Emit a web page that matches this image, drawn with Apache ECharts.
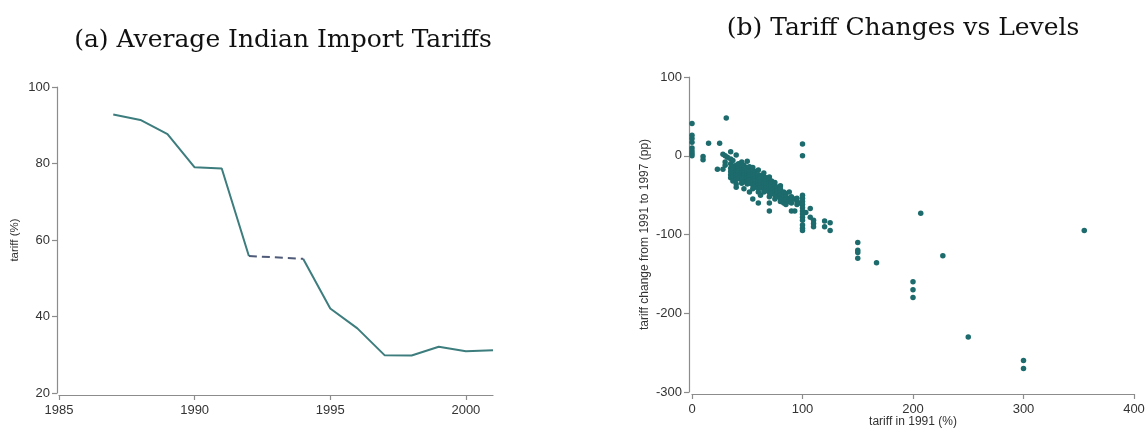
<!DOCTYPE html>
<html>
<head>
<meta charset="utf-8">
<script src="https://cdn.jsdelivr.net/npm/echarts@6/dist/echarts.min.js"></script>
<style>
html,body{margin:0;padding:0;background:#fff;}
#chart{width:1146px;height:430px;}
</style>
</head>
<body>
<div id="chart"></div>
<script>
// ---- Panel (a): average Indian import tariffs ----
var years = [1987, 1988, 1989, 1990, 1991, 1992, 1994, 1995, 1996, 1997, 1998, 1999, 2000, 2001];
var tariffs = [92.8, 91.4, 87.7, 79.0, 78.7, 55.8, 55.1, 42.1, 36.9, 29.9, 29.8, 32.1, 30.9, 31.2];
var gapYears = [1992, 1994];           // dashed segment (missing 1993)
var xTicksA = [1985, 1990, 1995, 2000];
var yTicksA = [20, 40, 60, 80, 100];

// ---- Panel (b): tariff change 1991-1997 vs tariff level in 1991 ----
// grouped as [tariff in 1991, [changes...]]
var scatterColumns = [
  [0, [41, 26, 22, 17, 10, 6, 3, 0]],
  [10, [-1, -5]],
  [15, [16]],
  [23, [-17]],
  [25, [16]],
  [28, [-17, 2]],
  [30, [0, -8, -12]],
  [31, [48]],
  [32, [-2]],
  [35, [5, -4, -10, -16, -20, -24, -28]],
  [37, [-6, -13, -18, -22, -27, -32]],
  [40, [1, -12, -15, -18, -21, -24, -27, -30, -36, -40]],
  [42, [-10, -16, -19, -22, -25, -29]],
  [45, [-8, -14, -18, -21, -24, -27, -31, -35]],
  [47, [-12, -18, -22, -25, -28, -33, -42]],
  [50, [-7, -15, -19, -23, -26, -29, -32, -36]],
  [52, [-14, -20, -24, -27, -31, -35, -46]],
  [55, [-15, -19, -23, -27, -30, -33, -37, -42, -55]],
  [57, [-20, -25, -29, -32, -36, -40]],
  [60, [-18, -24, -28, -31, -34, -37, -41, -46, -60]],
  [62, [-25, -29, -33, -37, -41, -50]],
  [65, [-22, -27, -31, -35, -38, -42, -46]],
  [67, [-28, -32, -36, -40, -44]],
  [70, [-27, -31, -35, -39, -43, -47, -52, -60, -70]],
  [72, [-32, -36, -40, -44, -48]],
  [75, [-34, -38, -42, -46, -50, -55]],
  [77, [-40, -44, -48, -52]],
  [80, [-38, -42, -46, -50, -54, -58]],
  [83, [-46, -50, -54, -60]],
  [85, [-48, -52, -56, -62]],
  [88, [-46, -54, -58]],
  [90, [-52, -56, -60, -70]],
  [93, [-55, -70]],
  [95, [-54, -58, -62]],
  [97, [-60]],
  [100, [15, 0, -50, -54, -58, -62, -66, -70, -74, -78, -82, -88, -92, -95]],
  [103, [-72]],
  [107, [-67, -78]],
  [110, [-82, -86, -90]],
  [120, [-83, -90]],
  [125, [-85, -95]],
  [150, [-110, -120, -123, -130]],
  [167, [-136]],
  [200, [-160, -170, -180]],
  [207, [-73]],
  [227, [-127]],
  [250, [-230]],
  [300, [-260, -270]],
  [355, [-95]]
];
var xTicksB = [0, 100, 200, 300, 400];
var yTicksB = [-300, -200, -100, 0, 100];

// ---- build series data ----
var solidData = [];
for (var i = 0; i < years.length; i++) {
  solidData.push([years[i], tariffs[i]]);
  if (years[i] === gapYears[0]) solidData.push([(gapYears[0] + gapYears[1]) / 2, null]);
}
var dashData = gapYears.map(function (y) { return [y, tariffs[years.indexOf(y)]]; });
var scatterData = [];
scatterColumns.forEach(function (c) {
  c[1].forEach(function (v) { scatterData.push([c[0], v]); });
});

var axisColor = '#8c8c8c';
var labelStyle = { color: '#333333', fontFamily: 'Liberation Sans, Arial, sans-serif', fontSize: 13 };
var nameStyle = { color: '#333333', fontFamily: 'Liberation Sans, Arial, sans-serif', fontSize: 12 };
function plain(v) { return String(v); }
function axisCommon() {
  return {
    type: 'value',
    splitLine: { show: false },
    nameMoveOverlap: false,
    axisLine: { show: true, onZero: false, lineStyle: { color: axisColor, width: 1.2 } },
    axisTick: { show: true, inside: false, length: 5, lineStyle: { color: axisColor, width: 1.2 } }
  };
}

var chart = echarts.init(document.getElementById('chart'), null, { renderer: 'canvas' });
var xA = axisCommon(), yA = axisCommon(), xB = axisCommon(), yB = axisCommon();

Object.assign(xA, {
  gridIndex: 0, min: 1985, max: 2001, interval: 5, offset: 2,
  axisTick: Object.assign(xA.axisTick, { customValues: xTicksA }),
  axisLabel: Object.assign({ margin: 9, customValues: xTicksA, formatter: plain }, labelStyle)
});
Object.assign(yA, {
  gridIndex: 0, min: 20, max: 100, interval: 20, offset: 2,
  name: 'tariff (%)', nameLocation: 'middle', nameGap: 36, nameTextStyle: Object.assign({}, nameStyle, { fontSize: 11.5 }),
  axisTick: Object.assign(yA.axisTick, { customValues: yTicksA }),
  axisLabel: Object.assign({ margin: 7, customValues: yTicksA, formatter: plain }, labelStyle)
});
Object.assign(xB, {
  gridIndex: 1, min: 0, max: 400, interval: 100, offset: 2,
  name: 'tariff in 1991 (%)', nameLocation: 'middle', nameGap: 22, nameTextStyle: nameStyle,
  axisTick: Object.assign(xB.axisTick, { customValues: xTicksB }),
  axisLabel: Object.assign({ margin: 9, customValues: xTicksB, formatter: plain }, labelStyle)
});
Object.assign(yB, {
  gridIndex: 1, min: -300, max: 100, interval: 100, offset: 3,
  name: 'tariff change from 1991 to 1997 (pp)', nameLocation: 'middle', nameGap: 38, nameTextStyle: nameStyle,
  axisTick: Object.assign(yB.axisTick, { customValues: yTicksB }),
  axisLabel: Object.assign({ margin: 7, customValues: yTicksB, formatter: plain }, labelStyle)
});

chart.setOption({
  animation: false,
  backgroundColor: '#ffffff',
  graphic: [
    { type: 'text', x: 283, y: 40, style: { text: '(a) Average Indian Import Tariffs', font: '25px "DejaVu Serif", serif', fill: '#111', textAlign: 'center', textVerticalAlign: 'middle' } },
    { type: 'text', x: 903, y: 28, style: { text: '(b) Tariff Changes vs Levels', font: '25px "DejaVu Serif", serif', fill: '#111', textAlign: 'center', textVerticalAlign: 'middle' } }
  ],
  grid: [
    { left: 59, right: 1146 - 493, top: 87, bottom: 430 - 393, outerBoundsMode: 'none', containLabel: false },
    { left: 692, right: 1146 - 1134, top: 77, bottom: 430 - 392, outerBoundsMode: 'none', containLabel: false }
  ],
  xAxis: [xA, xB],
  yAxis: [yA, yB],
  series: [
    {
      type: 'line', xAxisIndex: 0, yAxisIndex: 0, data: solidData, connectNulls: false,
      showSymbol: false, symbol: 'none', lineStyle: { color: '#3d7d7e', width: 2 }
    },
    {
      type: 'line', xAxisIndex: 0, yAxisIndex: 0, data: dashData,
      showSymbol: false, symbol: 'none', lineStyle: { color: '#4f5b78', width: 2, type: [8, 5] }
    },
    {
      type: 'scatter', xAxisIndex: 1, yAxisIndex: 1, data: scatterData,
      symbol: 'circle', symbolSize: 5.5, itemStyle: { color: '#1d6b6c', opacity: 1 }
    }
  ]
});
</script>
</body>
</html>
